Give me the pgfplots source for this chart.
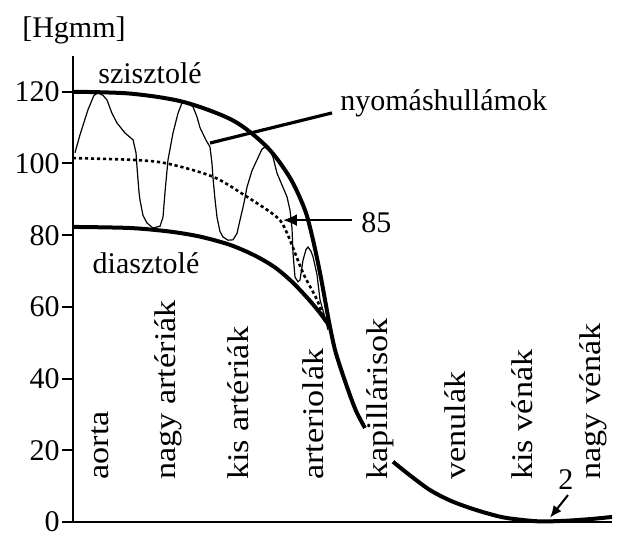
\documentclass[border=0pt]{standalone}
\usepackage{graphicx}
\usepackage{pgfplots}
\pgfplotsset{compat=1.18}
\usepackage{fontspec}
\setmainfont{Liberation Serif}
\usetikzlibrary{arrows.meta}
\newcommand\fs{\fontsize{15}{18}\selectfont}
\begin{document}
\begin{tikzpicture}
\begin{axis}[
 scale only axis, x=0.5pt, y=1.7925pt,
 xmin=73, xmax=612, ymin=0, ymax=130,
 axis x line=bottom, axis y line=left,
 axis line style={-, line width=1.2pt, black},
 xtick=\empty,
 ytick={0,20,...,120},
 tick style={line width=1pt, black},
 major tick length=5.5pt,
 tick align=outside,
 y tick label style={font=\fs, inner sep=1pt},
 /pgf/number format/assume math mode=true,
 clip=false,
]
% systolic
\addplot[line width=2pt, smooth, black] coordinates {(73,120) (130,119.5) (183,117.2) (233,112) (267,104.6) (290,96) (305,87) (313,78.7) (320,69.5) (325,62) (330,54.4) (336,47) (347,37.7) (356,31) (365,26.2)};
% diastolic
\addplot[line width=2pt, smooth, black] coordinates {(73,82.3) (130,82) (170,81) (200,79.6) (230,77.3) (255,74.3) (275,71) (292,67) (308,62.3) (320,58.3) (330,54.5)};
% venous
\addplot[line width=2pt, smooth, black] coordinates {(393,16.8) (410,13) (430,8.9) (450,6) (470,3.9) (490,2.2) (507,1.1) (537,0.2) (563,0.3) (590,0.8) (612,1.4)};
% mean
\addplot[line width=1.3pt, dash pattern=on 1.6pt off 1.4pt, smooth, black] coordinates {(73,101.5) (133,101) (167,100) (213,96.3) (247,90.7) (277,85) (287,80.6) (303,69.5) (317,62) (325,56)};
% pressure waves
\addplot[line width=0.6pt, black] coordinates {(75,103) (80,108) (88,115) (94,119) (98,119.7) (103,119) (107,117.7) (112,114) (117,111.3) (125,108.5) (133,106.6) (136,103) (137,99) (139,92) (140,89.8) (143,85.5) (147,83.4) (153,82) (160,82.5) (163,85) (165,92) (168,101) (173,108.5) (178,114) (182,116.9) (188,117) (193,115.8) (197,113) (200,110) (206,106.5) (210,104.6) (212,100) (213,96) (215,90) (217,85) (220,81) (223,79.5) (228,78.6) (233,78.7) (237,80.5) (240,84.2) (244,89) (247,93.4) (252,98) (257,101) (262,104) (265,104.6) (270,103.5) (273,101.8) (277,97.3) (282,94) (287,90.7) (290,87) (292,82) (293,75) (295,68.3) (298,67) (300,67.5) (303,73) (306,76) (308,76.7) (311,75.5) (313,74) (317,69) (320,62) (325,57) (328,53.6)};
% annotations
\draw[line width=1.6pt] (axis cs:210,105.7) -- (axis cs:332,114.1);
\node[font=\fs, anchor=west, inner sep=0pt] at (axis cs:340,116.9) {nyomáshullámok};
\draw[line width=0.9pt, -{Latex[length=7pt,width=6pt]}] (axis cs:352,84.2) -- (axis cs:283,84.2);
\node[font=\fs, anchor=west, inner sep=0pt] at (axis cs:361,83.6) {85};
\draw[line width=1pt, -{Latex[length=6pt,width=5pt]}] (axis cs:568,7.5) -- (axis cs:550,1.2);
\node[font=\fs, inner sep=0pt] at (axis cs:566,11.7) {2};
\node[font=\fs, inner sep=0pt] at (axis cs:150,125.2) {szisztolé};
\node[font=\fs, inner sep=0pt] at (axis cs:146,72.2) {diasztolé};
\node[font=\fs, inner sep=0pt] at (axis cs:74,137.2) {[Hgmm]};
% vertical category labels
\foreach \xx/\lab in {100/aorta, 168/nagy artériák, 238/kis artériák, 313/arteriolák, 380/kapillárisok, 455/venulák, 522/kis vénák, 593/nagy vénák}{
  \edef\temp{\noexpand\node[font=\noexpand\fs, rotate=90, anchor=west, inner sep=0pt] at (axis cs:\xx,11.7) {\noexpand\scalebox{1.14}[1]{\lab}};}
  \temp
}
\coordinate (bl) at (axis cs:0,-5.02);
\coordinate (tr) at (axis cs:639,145.6);
\end{axis}
\pgfresetboundingbox
\useasboundingbox (bl) rectangle (tr);
\end{tikzpicture}
\end{document}
